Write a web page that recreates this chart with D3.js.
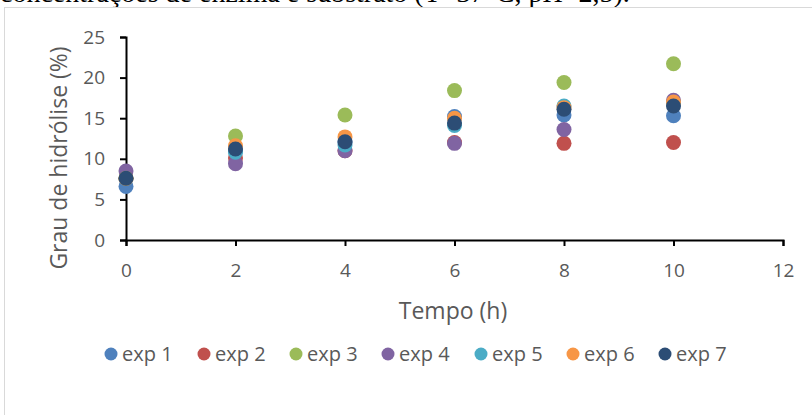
<!DOCTYPE html>
<html><head><meta charset="utf-8">
<script src="https://cdn.jsdelivr.net/npm/d3@7"></script>
<style>
body{margin:0;background:#fff;overflow:hidden}
svg{display:block}
</style></head>
<body>
<svg id="c" width="812" height="415"></svg>
<script>
const times = [0, 2, 4, 6, 8, 10];
const seriesNames = ["exp 1","exp 2","exp 3","exp 4","exp 5","exp 6","exp 7"];
const exp1 = [6.6, 11.0, 12.0, 15.2, 15.4, 15.3];
const exp2 = [7.6, 10.1, 11.0, 12.0, 11.9, 12.0];
const exp3 = [7.6, 12.8, 15.4, 18.4, 19.4, 21.7];
const exp4 = [8.5, 9.4, 11.0, 11.9, 13.6, 17.2];
const exp5 = [7.6, 10.8, 11.7, 14.1, 16.5, 16.8];
const exp6 = [7.6, 11.6, 12.7, 15.0, 16.3, 17.0];
const exp7 = [7.6, 11.2, 12.1, 14.4, 16.1, 16.5];
const seriesValues = [exp1, exp2, exp3, exp4, exp5, exp6, exp7];
const colors = ["#4F81BD","#C0504D","#9BBB59","#8064A2","#4BACC6","#F79646","#2C4D75"];
const xTicks = [0,2,4,6,8,10,12];
const yTicks = [0,5,10,15,20,25];

const svg = d3.select("#c");
const font = "'Open Sans', 'Noto Sans', sans-serif";

// caption text (cropped at top, as in the reference)
svg.append("text").attr("x", 0).attr("y", 2)
  .attr("font-family","'Liberation Serif','Times New Roman',serif").attr("font-size",28)
  .attr("fill","#000").text("concentrações de enzima e substrato (T=37°C, pH=2,5).");

// chart border
svg.append("rect").attr("x",4.5).attr("y",7.5).attr("width",840).attr("height",440)
  .attr("fill","none").attr("stroke","#d9d9d9").attr("stroke-width",1);

const x = d3.scaleLinear().domain([0,12]).range([126,783]);
const y = d3.scaleLinear().domain([0,25]).range([240,37]);

const yAxis = svg.append("g").attr("transform","translate(126,0)")
  .call(d3.axisLeft(y).tickValues(yTicks).tickSize(6).tickPadding(15));
const xAxis = svg.append("g").attr("transform","translate(0,240)")
  .call(d3.axisBottom(x).tickValues(xTicks).tickSize(6).tickPadding(18));
[xAxis,yAxis].forEach(g=>{
  g.select(".domain").attr("stroke","#000").attr("stroke-width",2);
  g.selectAll(".tick line").attr("stroke","#000").attr("stroke-width",2);
  g.selectAll(".tick text").attr("fill","#595959").attr("font-family",font).attr("font-size",19);
});

// axis titles
svg.append("text").attr("transform","translate(67,158) rotate(-90)")
  .attr("text-anchor","middle").attr("font-family",font).attr("font-size",23)
  .attr("fill","#595959").text("Grau de hidrólise (%)");
svg.append("text").attr("x",453).attr("y",319)
  .attr("text-anchor","middle").attr("font-family",font).attr("font-size",23)
  .attr("fill","#595959").text("Tempo (h)");

// points
seriesValues.forEach((vals,i)=>{
  svg.append("g").selectAll("circle").data(vals).join("circle")
    .attr("cx",(d,j)=>x(times[j])).attr("cy",d=>y(d)).attr("r",7.5)
    .attr("fill",colors[i]);
});

// legend
const legX = [111,204,296,388,481,573,665];
const leg = svg.append("g");
seriesNames.forEach((n,i)=>{
  leg.append("circle").attr("cx",legX[i]).attr("cy",354).attr("r",6.5).attr("fill",colors[i]);
  leg.append("text").attr("x",legX[i]+11).attr("y",361).attr("font-family",font)
    .attr("font-size",20).attr("fill","#595959").text(n);
});
</script>
</body></html>
